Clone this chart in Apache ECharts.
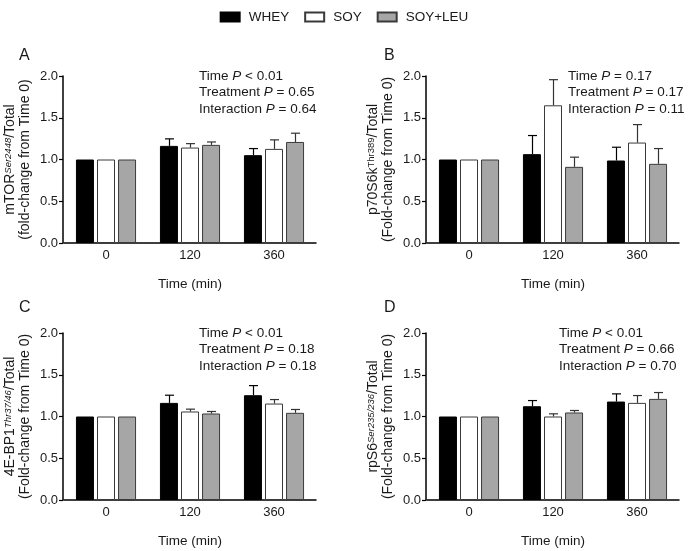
<!DOCTYPE html>
<html><head><meta charset="utf-8">
<script src="https://cdn.jsdelivr.net/npm/echarts@6/dist/echarts.min.js"></script>
<style>html,body{margin:0;padding:0;background:#fff}#c{width:688px;height:551px}</style>
</head><body><div id="c"></div>
<script>
const categories = ['0', '120', '360'];
const groups = ['WHEY', 'SOY', 'SOY+LEU'];

// Panel A: mTOR
const A_whey = [1, 1.163, 1.052];
const A_soy = [1, 1.143, 1.127];
const A_leu = [1, 1.175, 1.21];
const A_whey_sem = [0, 0.084, 0.079];
const A_soy_sem = [0, 0.047, 0.108];
const A_leu_sem = [0, 0.035, 0.105];
// Panel B: p70S6k
const B_whey = [1, 1.064, 0.988];
const B_soy = [1, 1.649, 1.203];
const B_leu = [1, 0.912, 0.948];
const B_whey_sem = [0, 0.223, 0.159];
const B_soy_sem = [0, 0.307, 0.215];
const B_leu_sem = [0, 0.116, 0.183];
// Panel C: 4E-BP1
const C_whey = [1, 1.163, 1.255];
const C_soy = [1, 1.06, 1.155];
const C_leu = [1, 1.036, 1.044];
const C_whey_sem = [0, 0.092, 0.115];
const C_soy_sem = [0, 0.028, 0.048];
const C_leu_sem = [0, 0.024, 0.04];
// Panel D: rpS6
const D_whey = [1, 1.123, 1.179];
const D_soy = [1, 1.0, 1.163];
const D_leu = [1, 1.048, 1.211];
const D_whey_sem = [0, 0.068, 0.092];
const D_soy_sem = [0, 0.032, 0.088];
const D_leu_sem = [0, 0.024, 0.076];

const yTicks = [0, 0.5, 1.0, 1.5, 2.0];

const stats = {
  A: ['< 0.01', '= 0.65', '= 0.64'],
  B: ['= 0.17', '= 0.17', '= 0.11'],
  C: ['< 0.01', '= 0.18', '= 0.18'],
  D: ['< 0.01', '= 0.66', '= 0.70']
};

const FONT = '"Liberation Sans", Arial, sans-serif';
const TXT = '#1a1a1a';
const fills = ['#000000', '#ffffff', '#a6a6a6'];
const borders = ['#000000', '#3a3a3a', '#3a3a3a'];
const BAR_W = 18, BAR_STEP = 21;

const panels = [
  {key: 'A', vals: [A_whey, A_soy, A_leu], sems: [A_whey_sem, A_soy_sem, A_leu_sem],
   left: 64, top: 76, ylab: ['mTOR', 'Ser2448', true, '(fold-change from Time 0)'], lx: 19, ly: 56, sx: 199},
  {key: 'B', vals: [B_whey, B_soy, B_leu], sems: [B_whey_sem, B_soy_sem, B_leu_sem],
   left: 427, top: 76, ylab: ['p70S6k', 'Thr389', false, '(Fold-change from Time 0)'], lx: 384, ly: 56, sx: 568},
  {key: 'C', vals: [C_whey, C_soy, C_leu], sems: [C_whey_sem, C_soy_sem, C_leu_sem],
   left: 64, top: 333, ylab: ['4E-BP1', 'Thr37/46', true, '(Fold-change from Time 0)'], lx: 19, ly: 308, sx: 199},
  {key: 'D', vals: [D_whey, D_soy, D_leu], sems: [D_whey_sem, D_soy_sem, D_leu_sem],
   left: 427, top: 333, ylab: ['rpS6', 'Ser235/236', true, '(Fold-change from Time 0)'], lx: 384, ly: 308, sx: 559}
];

const grid = [], xAxis = [], yAxis = [], series = [], graphic = [];

panels.forEach((p, pi) => {
  grid.push({left: p.left, top: p.top, width: 252, height: 167});
  xAxis.push({
    type: 'category', gridIndex: pi, data: categories,
    axisLine: {lineStyle: {color: '#000', width: 1.5}},
    axisTick: {alignWithLabel: true, length: 4, lineStyle: {color: '#000', width: 1.2}},
    axisLabel: {color: TXT, fontSize: 13, fontFamily: FONT, margin: 6},
    name: 'Time (min)', nameLocation: 'middle', nameGap: 34,
    nameTextStyle: {color: TXT, fontSize: 13.5, fontFamily: FONT}
  });
  yAxis.push({
    type: 'value', gridIndex: pi, min: yTicks[0], max: yTicks[yTicks.length - 1], interval: 0.5,
    offset: 1,
    axisLine: {show: true, lineStyle: {color: '#000', width: 1.5}},
    axisTick: {show: true, length: 4, lineStyle: {color: '#000', width: 1.2}},
    splitLine: {show: false},
    axisLabel: {color: TXT, fontSize: 13, fontFamily: FONT, margin: 5, formatter: v => v.toFixed(1)},
    name: '{t|' + p.ylab[0] + '}{s|' + p.ylab[1] + '}{t|/Total}\n{t|' + p.ylab[3] + '}',
    nameLocation: 'middle', nameGap: 30,
    nameTextStyle: {
      color: TXT, fontFamily: FONT,
      rich: {
        t: {fontSize: 14, lineHeight: 15, color: TXT, fontFamily: FONT},
        s: {fontSize: 9.5, lineHeight: 8, verticalAlign: 'top', color: TXT, fontFamily: FONT, fontStyle: p.ylab[2] ? 'italic' : 'normal'}
      }
    }
  });
  groups.forEach((g, gi) => {
    series.push({
      type: 'bar', name: g, xAxisIndex: pi, yAxisIndex: pi,
      data: p.vals[gi], barWidth: BAR_W, barGap: '17%',
      itemStyle: {color: fills[gi], borderColor: borders[gi], borderWidth: 1},
      z: 2
    });
  });
  groups.forEach((g, gi) => {
    const data = [];
    categories.forEach((c, ci) => {
      if (p.sems[gi][ci] > 0) data.push([ci, p.vals[gi][ci], p.vals[gi][ci] + p.sems[gi][ci]]);
    });
    const off = (gi - 1) * BAR_STEP;
    series.push({
      type: 'custom', name: g, xAxisIndex: pi, yAxisIndex: pi, z: 3,
      encode: {x: 0, y: [1, 2]},
      data: data,
      renderItem: (params, api) => {
        const a = api.coord([api.value(0), api.value(1)]);
        const b = api.coord([api.value(0), api.value(2)]);
        const x = Math.round(a[0] + off) + 0.5;
        const col = gi === 0 ? '#000' : '#333';
        return {type: 'group', children: [
          {type: 'line', shape: {x1: x, y1: a[1], x2: x, y2: b[1]}, style: {stroke: col, lineWidth: 1.2}},
          {type: 'line', shape: {x1: x - 4.5, y1: b[1], x2: x + 4.5, y2: b[1]}, style: {stroke: col, lineWidth: 1.2}}
        ]};
      }
    });
  });
  graphic.push({type: 'text', left: p.lx, top: p.ly - 8,
    style: {text: p.key, font: '16px ' + FONT, fill: TXT}});
  const labels = ['Time ', 'Treatment ', 'Interaction '];
  labels.forEach((l, li) => {
    graphic.push({type: 'text', x: p.sx, y: p.top + li * 16.6,
      style: {
        text: '{n|' + l + '}{i|P}{n| ' + stats[p.key][li] + '}',
        verticalAlign: 'middle', align: 'left',
        rich: {
          n: {fontSize: 13.5, fontFamily: FONT, fill: TXT},
          i: {fontSize: 13.5, fontFamily: FONT, fontStyle: 'italic', fill: TXT}
        }
      }});
  });
});

const chart = echarts.init(document.getElementById('c'), null, {renderer: 'canvas'});
chart.setOption({
  animation: false,
  backgroundColor: '#fff',
  legend: {
    data: groups, top: 5, left: 'center', itemWidth: 19, itemHeight: 9, itemGap: 15,
    icon: 'rect',
    textStyle: {color: TXT, fontSize: 13.5, fontFamily: FONT, padding: [0, 0, 0, 4]}
  },
  grid, xAxis, yAxis, series, graphic
});
</script></body></html>
